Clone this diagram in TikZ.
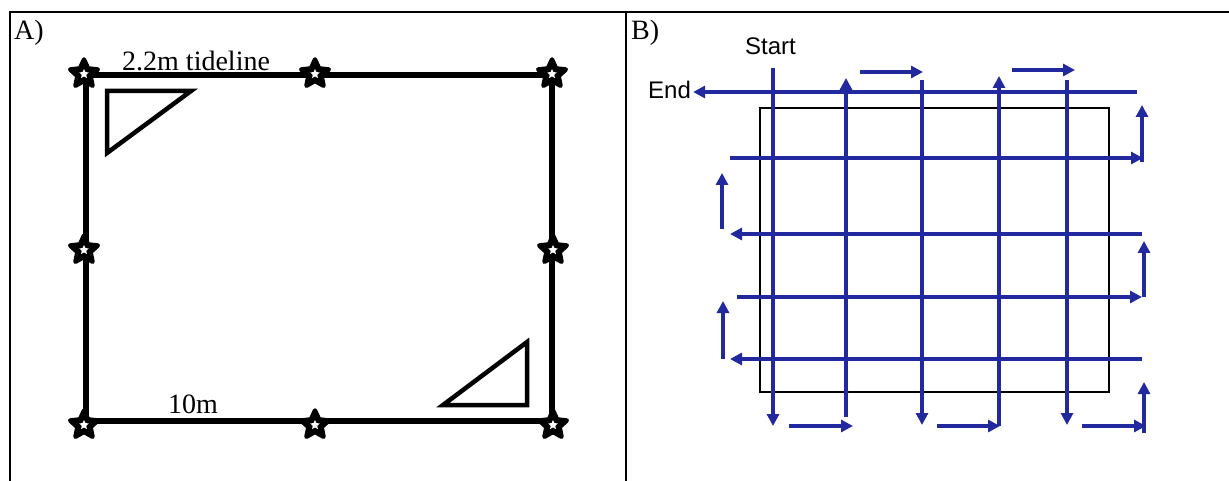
\documentclass[tikz,border=0pt]{standalone}
\usepackage{fontspec}
\setmainfont{Liberation Serif}
\setsansfont{Liberation Sans}
\usetikzlibrary{shapes.geometric,arrows.meta}
\definecolor{transectblue}{RGB}{34,40,158}
\tikzset{
  frameline/.style={line width=2.4pt, draw=black},
  plotedge/.style={line width=5.5pt, draw=black, line cap=butt},
  quadrat/.style={line width=4.5pt, draw=black, line join=miter},
  post/.style={star, star points=5, star point ratio=2.1, minimum size=29pt, inner sep=0pt,
    fill=black, draw=black, line width=4.5pt, line join=round},
  postcore/.style={star, star points=5, star point ratio=2.1, minimum size=10pt, inner sep=0pt, fill=white},
  panellabel/.style={font=\fontsize{28}{31}\selectfont, inner sep=0pt},
  walklabel/.style={font=\sffamily\fontsize{24}{27}\selectfont, inner sep=0pt},
  survey/.style={line width=3.6pt, draw=transectblue},
  walk/.style={survey, -{Triangle[length=12pt,width=12pt]}},
  areabox/.style={line width=2.4pt, draw=black},
}

\begin{document}
\begin{tikzpicture}[x=1pt,y=-1pt]
\useasboundingbox (0,0) rectangle (1229,481);
% outer frame
\draw[frameline] (9,12) -- (1229,12);
\draw[frameline] (10,12) -- (10,481);
\draw[frameline] (626,12) -- (626,481);
% panel A
\node[panellabel, anchor=base west] (labA) at (14,40) {A)};
\draw[plotedge] (86,75) -- (552,75);
\draw[plotedge] (552,75) -- (552,421);
\draw[plotedge] (552,421) -- (86,421);
\draw[plotedge] (86,421) -- (86,75);
\draw[quadrat] (107,91) -- (191,91) -- (107,153) -- cycle;
\draw[quadrat] (443,405) -- (527,405) -- (527,342) -- cycle;
\node[panellabel, anchor=base west] (tideline) at (122,71) {2.2m tideline};
\node[panellabel, anchor=base west] (width) at (168,413) {10m};
\node[post] (p1) at (84,74) {};
\node[post] (p2) at (315,74) {};
\node[post] (p3) at (552,74) {};
\node[post] (p4) at (84,250) {};
\node[post] (p5) at (553,250) {};
\node[post] (p6) at (84,425) {};
\node[post] (p7) at (315,425) {};
\node[post] (p8) at (553,425) {};
\node[postcore] at (p1) {};
\node[postcore] at (p2) {};
\node[postcore] at (p3) {};
\node[postcore] at (p4) {};
\node[postcore] at (p5) {};
\node[postcore] at (p6) {};
\node[postcore] at (p7) {};
\node[postcore] at (p8) {};
% panel B
\node[panellabel, anchor=base west] (labB) at (631,40) {B)};
\node[walklabel, anchor=base west] (start) at (745,55) {Start};
\node[walklabel, anchor=base west] (finish) at (648,99) {End};
\draw[areabox] (760,108) rectangle (1109,392);
% north-south passes
\draw[walk] (773,68) -- (773,426);
\draw[walk] (789,426) -- (853,426);
\draw[walk] (846,417) -- (846,78);
\draw[walk] (860,72) -- (923,72);
\draw[walk] (922,80) -- (922,425);
\draw[walk] (937,426) -- (1000,426);
\draw[walk] (999,426) -- (999,76);
\draw[walk] (1012,70) -- (1075,70);
\draw[walk] (1067,80) -- (1067,425);
\draw[walk] (1082,426) -- (1146,426);
% east-west passes
\draw[walk] (1144,433) -- (1144,382);
\draw[walk] (1142,359) -- (730,359);
\draw[walk] (723,359) -- (723,301);
\draw[walk] (737,297) -- (1142,297);
\draw[walk] (1144,297) -- (1144,241);
\draw[walk] (1142,234) -- (730,234);
\draw[walk] (722,229) -- (722,173);
\draw[walk] (730,158) -- (1143,158);
\draw[walk] (1142,162) -- (1142,105);
\draw[walk] (1137,92) -- ([xshift=2pt]finish.east |- 0,92);
\end{tikzpicture}
\end{document}
